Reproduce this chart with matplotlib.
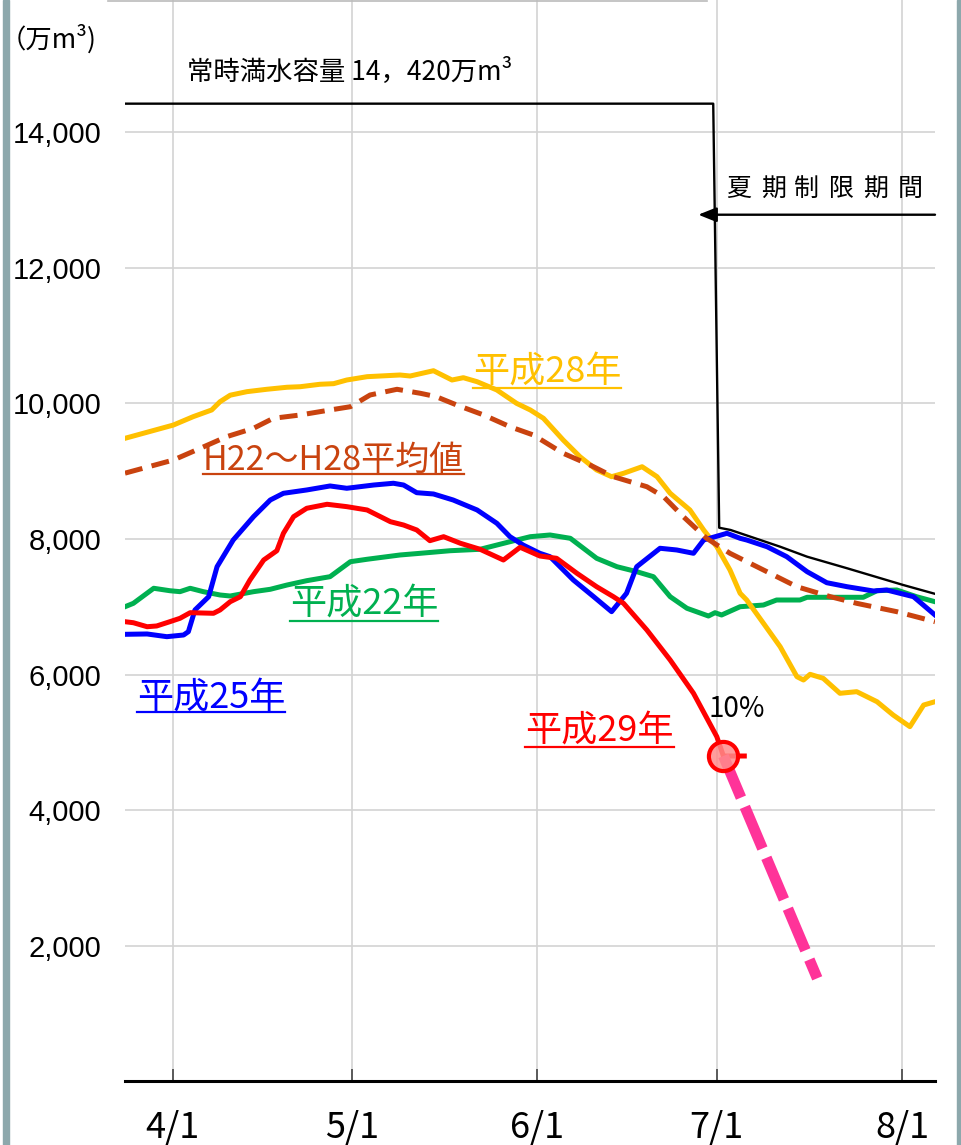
import matplotlib
matplotlib.use('Agg')
import matplotlib.pyplot as plt
from matplotlib.lines import Line2D
from matplotlib.patches import Rectangle

plt.rcParams['font.family'] = ['Noto Sans CJK JP', 'DejaVu Sans']

# ---------------- data (x = days counted from 4/1, y = 万m3) ----------------
tick_days = [0, 30, 61, 91, 122]
tick_labels = ['4/1', '5/1', '6/1', '7/1', '8/1']
y_ticks = [2000, 4000, 6000, 8000, 10000, 12000, 14000]
y_labels = ['2,000', '4,000', '6,000', '8,000', '10,000', '12,000', '14,000']

# 常時満水容量 / 夏期制限
cap_days = [-8.0, 90.4, 91.4, 93.3, 101.6, 106.1, 112.8, 122.2, 127.5]
cap_vals = [14420, 14420, 8165, 8132, 7885, 7738, 7567, 7320, 7190]

h28_days = [-8.0, 0.1, 3.4, 6.5, 7.9, 9.6, 12.4, 15.7, 19.1, 21.3, 24.6, 26.9, 29.1, 32.5,
            38.0, 39.7, 43.6, 46.7, 48.6, 50.9, 54.2, 57.5, 59.8, 62.0, 65.3, 68.1,
            70.9, 73.4, 75.4, 78.5, 81.0, 83.2, 86.5, 88.8, 91.0, 93.2, 94.9, 96.0,
            98.8, 101.6, 104.4, 105.5, 106.6, 108.8, 111.6, 114.4, 117.8, 120.5,
            123.3, 125.6, 127.5]
h28_vals = [9484, 9680, 9803, 9902, 10024, 10120, 10172, 10207, 10237, 10245, 10281, 10290, 10344, 10393,
            10418, 10403, 10481, 10344, 10378, 10319, 10197, 10000, 9902, 9779, 9459, 9213,
            9017, 8918, 8968, 9065, 8918, 8673, 8427, 8132, 7885, 7542, 7198, 7099,
            6756, 6410, 5968, 5919, 6003, 5944, 5723, 5747, 5599, 5403,
            5231, 5550, 5599]

avg_days = [-8.0, 0.1, 4.6, 9.0, 13.5, 16.8, 21.3, 26.3, 29.7, 33.0, 37.5, 41.4, 44.0,
            47.5, 52.0, 56.4, 60.3, 65.3, 69.8, 73.7, 79.3, 82.1, 85.4, 89.3, 93.2,
            98.8, 104.4, 110.0, 114.4, 121.1, 127.5]
avg_vals = [8970, 9164, 9337, 9508, 9632, 9779, 9828, 9902, 9950, 10123, 10207, 10148, 10100,
            9975, 9828, 9655, 9533, 9263, 9090, 8918, 8770, 8623, 8328, 8009, 7788,
            7542, 7295, 7148, 7050, 6927, 6779]

h25_days = [-8.0, -4.3, -1.0, 1.8, 2.6, 3.7, 6.0, 7.4, 10.1, 13.5, 16.3, 18.5, 22.4, 26.3,
            29.1, 33.6, 36.9, 38.6, 40.8, 43.6, 46.9, 50.9, 54.2, 56.4, 58.6, 61.4,
            63.1, 67.0, 70.4, 73.4, 75.9, 77.6, 81.5, 84.3, 87.1, 88.8, 92.7, 94.9,
            96.0, 99.4, 102.7, 106.1, 109.4, 112.8, 117.2, 119.4, 123.9, 127.5]
h25_vals = [6593, 6598, 6558, 6583, 6632, 6952, 7148, 7590, 7984, 8328, 8574, 8673, 8722, 8781,
            8747, 8795, 8821, 8795, 8682, 8663, 8574, 8427, 8231, 8033, 7910, 7788,
            7738, 7394, 7148, 6927, 7198, 7590, 7862, 7837, 7788, 7984, 8083, 8009,
            7984, 7885, 7738, 7517, 7354, 7295, 7232, 7247, 7148, 6878]

h22_days = [-8.0, -6.6, -3.2, -0.5, 1.2, 2.9, 5.1, 7.9, 9.6, 13.5, 16.3, 19.1, 22.4, 26.3,
            29.7, 32.5, 38.0, 41.4, 46.4, 51.4, 53.1, 56.4, 59.8, 63.1, 66.5, 70.9,
            74.3, 77.6, 80.4, 83.2, 86.0, 89.6, 90.7, 91.8, 94.9, 98.8, 101.0, 104.9,
            106.1, 115.5, 117.8, 121.1, 124.4, 127.5]
h22_vals = [7000, 7050, 7272, 7236, 7222, 7272, 7222, 7173, 7158, 7222, 7257, 7320, 7384, 7443,
            7664, 7700, 7763, 7788, 7826, 7847, 7885, 7959, 8033, 8058, 8009, 7714,
            7590, 7517, 7443, 7148, 6977, 6863, 6912, 6878, 7000, 7025, 7099, 7099,
            7139, 7139, 7236, 7247, 7148, 7074]

h29_days = [-8.0, -6.6, -4.3, -2.7, -0.5, 1.2, 2.9, 6.8, 7.9, 9.6, 11.3, 12.9, 15.2, 17.4,
            18.5, 20.2, 22.4, 25.8, 29.1, 32.5, 36.4, 38.6, 40.8, 43.0, 45.3, 48.1,
            51.4, 55.3, 58.1, 61.4, 64.2, 67.6, 70.9, 73.7, 75.4, 79.3, 83.2, 87.1,
            91.0, 92.1, 95.6]
h29_vals = [6779, 6764, 6705, 6716, 6779, 6829, 6912, 6903, 6952, 7074, 7148, 7394, 7689, 7826,
            8083, 8328, 8452, 8511, 8476, 8427, 8254, 8205, 8132, 7974, 8033, 7936,
            7847, 7689, 7877, 7748, 7714, 7493, 7295, 7148, 7050, 6657, 6214, 5723,
            5083, 4798, 4798]

# 10% point and projection
pt_day, pt_val = 92.1, 4798
proj_days = [92.1, 107.8]
proj_vals = [4798, 1519]

# ---------------- figure ----------------
W, H = 961, 1145
fig = plt.figure(figsize=(W / 100, H / 100), dpi=100)
ax = fig.add_axes([125 / W, (H - 1081.3) / H, 810 / W, 1081.3 / H])
ax.set_xlim(-8, 127.5)
ax.set_ylim(0, 15949)

for s in ['top', 'left', 'right']:
    ax.spines[s].set_visible(False)
ax.spines['bottom'].set_linewidth(2.2)
ax.spines['bottom'].set_color('black')

ax.set_xticks(tick_days)
ax.set_xticklabels(tick_labels, fontsize=26)
ax.tick_params(axis='x', direction='in', length=9, width=1.2, color='#444444', pad=21)
ax.set_yticks(y_ticks)
ax.set_yticklabels(y_labels, fontsize=21, fontfamily='Liberation Sans')
ax.tick_params(axis='y', length=0, pad=17)
ax.grid(True, color='#D3D3D3', lw=1.2)
ax.set_axisbelow(True)

# capacity line
ax.plot(cap_days, cap_vals, color='black', lw=1.7, zorder=3)
# arrow for 夏期制限期間
ax.annotate('', xy=(87.9, 12782), xytext=(127.5, 12782),
            arrowprops=dict(arrowstyle='-|>,head_length=0.55,head_width=0.22',
                            color='black', lw=1.7, shrinkA=0, shrinkB=0,
                            mutation_scale=20), zorder=3)

lw = 3.6
ax.plot(h22_days, h22_vals, color='#00B050', lw=lw, zorder=4, solid_joinstyle='round')
ax.plot(h28_days, h28_vals, color='#FFC000', lw=lw, zorder=4, solid_joinstyle='round')
ax.plot(h25_days, h25_vals, color='#0000FF', lw=lw, zorder=5, solid_joinstyle='round')
ax.plot(h29_days, h29_vals, color='#FF0000', lw=lw, zorder=6, solid_joinstyle='round')
ax.plot(avg_days, avg_vals, color='#C9430F', lw=lw, zorder=6, dashes=(3.6, 1.9))
ax.plot(proj_days, proj_vals, color='#FF3399', lw=7.8, dashes=(4.17, 0.93),
        dash_capstyle='butt', zorder=7)
ax.plot([pt_day], [pt_val], marker='o', ms=21, mfc=(1.0, 0.55, 0.55, 0.85),
        mec='#FF0000', mew=3, zorder=8, linestyle='none')


def P(x, y):
    return (x / W, 1 - y / H)


# frame bars
fig.add_artist(Rectangle((3 / W, 0), 5.5 / W, 1, transform=fig.transFigure,
                         color='#8DA8AC', zorder=0))
fig.add_artist(Rectangle((956.5 / W, 0), 4.5 / W, 1, transform=fig.transFigure,
                         color='#8DA8AC', zorder=0))
fig.add_artist(Line2D([108 / W, 707 / W], [1 - 0.7 / H] * 2, transform=fig.transFigure,
                      color='#BBBBBB', lw=1.2))

# texts
fig.text(*P(0, 48), '（万m³)', fontsize=19, ha='left', va='baseline')
fig.text(*P(187, 80), '常時満水容量 14，420万m³', fontsize=19, ha='left', va='baseline')
for cx, ch in zip([738.3, 773.3, 806.7, 841.7, 876, 910], '夏期制限期間'):
    fig.text(*P(cx, 189), ch, fontsize=18, ha='center', va='center')
fig.text(*P(736.7, 716.7), '10%', fontsize=20, ha='center', va='baseline')

labels = [
    ('平成28年', '#FFC000', 473, 382, 387.7, 26),
    ('H22～H28平均値', '#C9430F', 203, 470, 473.5, 24.5),
    ('平成22年', '#00B050', 290, 615, 621.0, 26),
    ('平成25年', '#0000FF', 137, 708, 712.0, 26),
    ('平成29年', '#FF0000', 525, 741.7, 746.5, 26),
]
texts = []
for s, c, x0, by, uy, fs in labels:
    t = fig.text(*P(x0, by), s, color=c, fontsize=fs, ha='left', va='baseline')
    texts.append((t, c, uy))

fig.canvas.draw()
r = fig.canvas.get_renderer()
for t, c, uy in texts:
    bb = t.get_window_extent(r)
    fig.add_artist(Line2D([bb.x0 / W, bb.x1 / W], [1 - uy / H] * 2,
                          transform=fig.transFigure, color=c, lw=1.6))

fig.savefig('out.png', dpi=100)
